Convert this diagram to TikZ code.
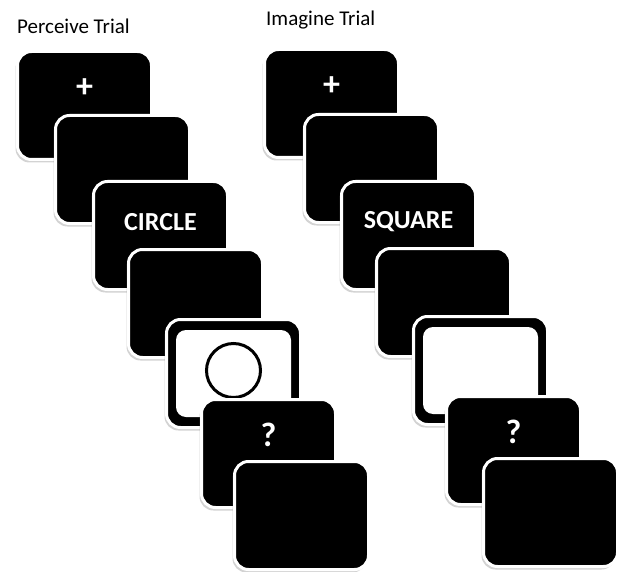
\documentclass[tikz,border=0pt]{standalone}
\usepackage{fontspec}
\setmainfont{Carlito}
\usetikzlibrary{shadows}

\tikzset{
  card/.style={rectangle, rounded corners=14pt, fill=black, draw=white, line width=3pt,
    minimum width=134pt, minimum height=108pt, inner sep=0pt,
    drop shadow={shadow xshift=-2pt, shadow yshift=-3pt, opacity=.35}},
  cue/.style={text=white, font=\bfseries\fontsize{26}{30}\selectfont, inner sep=0pt},
  mark cue/.style={cue, font=\bfseries\fontsize{34}{38}\selectfont},
  title/.style={anchor=west, font=\fontsize{21}{24}\selectfont, inner sep=0pt},
}

\begin{document}
\begin{tikzpicture}[x=1pt, y=-1pt]
    \useasboundingbox (0,0) rectangle (618,572);

    % perceive trial
    \node[title] (ptitle) at (17,26) {Perceive Trial};
    \node[card] (p1) at (84.5,105.5) {};
    \node[mark cue] (p1t) at ([yshift=-38pt]p1.north) {+};
    \node[card] (p2) at (122.5,169.5) {};
    \node[card] (p3) at (160.5,235.5) {};
    \node[cue] (p3t) at ([yshift=-42pt]p3.north) {CIRCLE};
    \node[card] (p4) at (195.5,303.5) {};
    \node[card] (p5) at (233.5,373.5) {};
    \draw[fill=white, draw=none, rounded corners=10pt] ([shift={(11pt,-12pt)}]p5.north west) rectangle ([shift={(-11pt,12pt)}]p5.south east);
    \node[draw=black, circle, line width=3pt, minimum size=54pt, inner sep=0pt] (ring) at ([yshift=3pt]p5.center) {};
    \node[card] (p6) at (268.5,453.5) {};
    \node[mark cue] (p6t) at ([yshift=-37pt]p6.north) {?};
    \node[card] (p7) at (301.5,515.5) {};

    % imagine trial
    \node[title] (ititle) at (266,20) {Imagine Trial};
    \node[card] (i1) at (331.5,103.5) {};
    \node[mark cue] (i1t) at ([yshift=-38pt]i1.north) {+};
    \node[card] (i2) at (371.5,168.5) {};
    \node[card] (i3) at (408.5,235.5) {};
    \node[cue] (i3t) at ([yshift=-42pt]i3.north) {SQUARE};
    \node[card] (i4) at (443.5,302.5) {};
    \node[card] (i5) at (480.5,370.5) {};
    \draw[fill=white, draw=none, rounded corners=10pt] ([shift={(11pt,-12pt)}]i5.north west) rectangle ([shift={(-11pt,12pt)}]i5.south east);
    \node[card] (i6) at (513.5,450.5) {};
    \node[mark cue] (i6t) at ([yshift=-37pt]i6.north) {?};
    \node[card] (i7) at (550.5,512.5) {};
\end{tikzpicture}
\end{document}
